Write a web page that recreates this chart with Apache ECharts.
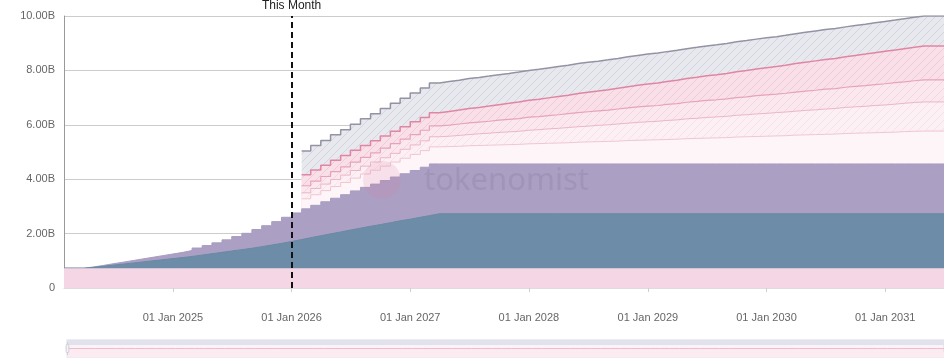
<!DOCTYPE html>
<html>
<head>
<meta charset="utf-8">
<script src="https://cdn.jsdelivr.net/npm/echarts@6/dist/echarts.min.js"></script>
<style>html,body{margin:0;padding:0;background:#fff;}#c{width:944px;height:364px;}</style>
</head>
<body>
<div id="c"></div>
<script>
// Monthly dates (x axis)
var months = [
 '2024-02-01','2024-03-01','2024-04-01','2024-05-01','2024-06-01','2024-07-01','2024-08-01','2024-09-01','2024-10-01','2024-11-01','2024-12-01',
 '2025-01-01','2025-02-01','2025-03-01','2025-04-01','2025-05-01','2025-06-01','2025-07-01','2025-08-01','2025-09-01','2025-10-01','2025-11-01','2025-12-01',
 '2026-01-01','2026-02-01','2026-03-01','2026-04-01','2026-05-01','2026-06-01','2026-07-01','2026-08-01','2026-09-01','2026-10-01','2026-11-01','2026-12-01',
 '2027-01-01','2027-02-01','2027-03-01','2027-04-01','2027-05-01','2027-06-01','2027-07-01','2027-08-01','2027-09-01','2027-10-01','2027-11-01','2027-12-01',
 '2028-01-01','2028-02-01','2028-03-01','2028-04-01','2028-05-01','2028-06-01','2028-07-01','2028-08-01','2028-09-01','2028-10-01','2028-11-01','2028-12-01',
 '2029-01-01','2029-02-01','2029-03-01','2029-04-01','2029-05-01','2029-06-01','2029-07-01','2029-08-01','2029-09-01','2029-10-01','2029-11-01','2029-12-01',
 '2030-01-01','2030-02-01','2030-03-01','2030-04-01','2030-05-01','2030-06-01','2030-07-01','2030-08-01','2030-09-01','2030-10-01','2030-11-01','2030-12-01',
 '2031-01-01','2031-02-01','2031-03-01','2031-04-01','2031-05-01','2031-06-01','2031-07-01'
];
var yTicks = [0, 2, 4, 6, 8, 10]; // billions
var thisMonth = '2026-01-01';

// Unlocked amounts per allocation, in billions (monthly)
var initialUnlock = [
 0.73,0.73,0.73,0.73,0.73,0.73,0.73,0.73,0.73,0.73,
 0.73,0.73,0.73,0.73,0.73,0.73,0.73,0.73,0.73,0.73,
 0.73,0.73,0.73,0.73,0.73,0.73,0.73,0.73,0.73,0.73,
 0.73,0.73,0.73,0.73,0.73,0.73,0.73,0.73,0.73,0.73,
 0.73,0.73,0.73,0.73,0.73,0.73,0.73,0.73,0.73,0.73,
 0.73,0.73,0.73,0.73,0.73,0.73,0.73,0.73,0.73,0.73,
 0.73,0.73,0.73,0.73,0.73,0.73,0.73,0.73,0.73,0.73,
 0.73,0.73,0.73,0.73,0.73,0.73,0.73,0.73,0.73,0.73,
 0.73,0.73,0.73,0.73,0.73,0.73,0.73,0.73,0.73,0.73
];
var blueAlloc = [
 0,0,0.03,0.07,0.11,0.15,0.19,0.23,0.27,0.31,
 0.35,0.39,0.43,0.48,0.53,0.58,0.63,0.68,0.73,0.79,
 0.85,0.91,0.98,1.05,1.12,1.19,1.26,1.33,1.40,1.47,
 1.54,1.60,1.67,1.74,1.80,1.87,1.93,2.00,2.00,2.00,
 2.00,2.00,2.00,2.00,2.00,2.00,2.00,2.00,2.00,2.00,
 2.00,2.00,2.00,2.00,2.00,2.00,2.00,2.00,2.00,2.00,
 2.00,2.00,2.00,2.00,2.00,2.00,2.00,2.00,2.00,2.00,
 2.00,2.00,2.00,2.00,2.00,2.00,2.00,2.00,2.00,2.00,
 2.00,2.00,2.00,2.00,2.00,2.00,2.00,2.00,2.00,2.00
];
var purpleAlloc = [
 0,0,0.01,0.03,0.05,0.07,0.09,0.11,0.13,0.15,
 0.17,0.19,0.22,0.26,0.30,0.35,0.41,0.48,0.55,0.63,
 0.71,0.80,0.89,0.98,1.06,1.12,1.18,1.24,1.30,1.37,
 1.43,1.49,1.55,1.61,1.67,1.72,1.78,1.83,1.83,1.83,
 1.83,1.83,1.83,1.83,1.83,1.83,1.83,1.83,1.83,1.83,
 1.83,1.83,1.83,1.83,1.83,1.83,1.83,1.83,1.83,1.83,
 1.83,1.83,1.83,1.83,1.83,1.83,1.83,1.83,1.83,1.83,
 1.83,1.83,1.83,1.83,1.83,1.83,1.83,1.83,1.83,1.83,
 1.83,1.83,1.83,1.83,1.83,1.83,1.83,1.83,1.83,1.83
];
var N = null;
var tbd1 = [
 N,N,N,N,N,N,N,N,N,N,
 N,N,N,N,N,N,N,N,N,N,
 N,N,N,N,0.37,0.39,0.41,0.43,0.45,0.47,
 0.49,0.51,0.53,0.55,0.57,0.59,0.61,0.63,0.64,0.65,
 0.67,0.68,0.69,0.70,0.71,0.72,0.74,0.75,0.76,0.77,
 0.78,0.80,0.81,0.82,0.83,0.84,0.86,0.87,0.88,0.89,
 0.90,0.91,0.93,0.94,0.95,0.96,0.97,0.99,1.00,1.01,
 1.02,1.03,1.04,1.06,1.07,1.08,1.09,1.10,1.12,1.13,
 1.14,1.15,1.16,1.17,1.19,1.20,1.21,1.21,1.21,1.21
];
var tbd2 = [
 N,N,N,N,N,N,N,N,N,N,
 N,N,N,N,N,N,N,N,N,N,
 N,N,N,N,0.22,0.23,0.24,0.26,0.27,0.28,
 0.29,0.30,0.31,0.32,0.33,0.35,0.36,0.37,0.38,0.40,
 0.41,0.43,0.44,0.46,0.47,0.48,0.50,0.51,0.53,0.54,
 0.56,0.57,0.58,0.60,0.61,0.63,0.64,0.66,0.67,0.68,
 0.70,0.71,0.73,0.74,0.76,0.77,0.78,0.80,0.81,0.83,
 0.84,0.86,0.87,0.88,0.90,0.91,0.93,0.94,0.96,0.97,
 0.98,1.00,1.01,1.03,1.04,1.06,1.07,1.07,1.07,1.07
];
var tbd3 = [
 N,N,N,N,N,N,N,N,N,N,
 N,N,N,N,N,N,N,N,N,N,
 N,N,N,N,0.26,0.27,0.28,0.29,0.30,0.31,
 0.32,0.34,0.35,0.36,0.37,0.38,0.39,0.40,0.41,0.42,
 0.43,0.43,0.44,0.45,0.46,0.47,0.48,0.48,0.49,0.50,
 0.51,0.52,0.53,0.53,0.54,0.55,0.56,0.57,0.58,0.58,
 0.59,0.60,0.61,0.62,0.63,0.63,0.64,0.65,0.66,0.67,
 0.68,0.68,0.69,0.70,0.71,0.72,0.73,0.73,0.74,0.75,
 0.76,0.77,0.78,0.79,0.79,0.80,0.81,0.81,0.81,0.81
];
var tbd4 = [
 N,N,N,N,N,N,N,N,N,N,
 N,N,N,N,N,N,N,N,N,N,
 N,N,N,N,0.40,0.41,0.41,0.42,0.42,0.43,
 0.44,0.44,0.45,0.45,0.46,0.47,0.47,0.48,0.50,0.51,
 0.53,0.54,0.56,0.57,0.59,0.61,0.62,0.64,0.65,0.67,
 0.68,0.70,0.72,0.73,0.75,0.76,0.78,0.79,0.81,0.83,
 0.84,0.86,0.87,0.89,0.90,0.92,0.94,0.95,0.97,0.98,
 1.00,1.01,1.03,1.05,1.06,1.08,1.09,1.11,1.12,1.14,
 1.16,1.17,1.19,1.20,1.22,1.23,1.25,1.25,1.25,1.25
];
var tbd5 = [
 N,N,N,N,N,N,N,N,N,N,
 N,N,N,N,N,N,N,N,N,N,
 N,N,N,N,0.88,0.90,0.91,0.93,0.95,0.96,
 0.98,1.00,1.01,1.03,1.05,1.06,1.08,1.10,1.10,1.10,
 1.10,1.10,1.10,1.10,1.10,1.10,1.10,1.10,1.10,1.10,
 1.10,1.10,1.10,1.10,1.10,1.10,1.10,1.10,1.10,1.10,
 1.10,1.10,1.10,1.10,1.10,1.10,1.10,1.10,1.10,1.10,
 1.10,1.10,1.10,1.10,1.10,1.10,1.10,1.10,1.10,1.10,
 1.10,1.10,1.10,1.10,1.10,1.10,1.10,1.10,1.10,1.10
];

// stacked totals (each layer drawn from 0 to its cumulative top; lower layers painted over upper ones)
var layers = [initialUnlock, blueAlloc, purpleAlloc, tbd1, tbd2, tbd3, tbd4, tbd5];
var cumulative = layers.map(function (arr, k) {
  return arr.map(function (v, i) {
    if (v == null) return null;
    var s = 0;
    for (var j = 0; j <= k; j++) s += (layers[j][i] || 0);
    return Math.round(s * 1000) / 1000;
  });
});

function pairs(arr) { return months.map(function (m, i) { return [m, arr[i]]; }); }
function hatch(bg, line) {
  var c = document.createElement('canvas'); c.width = 8; c.height = 8;
  var ctx = c.getContext('2d');
  ctx.fillStyle = bg; ctx.fillRect(0, 0, 8, 8);
  ctx.strokeStyle = line; ctx.lineWidth = 1;
  ctx.beginPath();
  ctx.moveTo(0, 8); ctx.lineTo(8, 0);
  ctx.moveTo(-1, 1); ctx.lineTo(1, -1);
  ctx.moveTo(7, 9); ctx.lineTo(9, 7);
  ctx.stroke();
  return { image: c, repeat: 'repeat' };
}
var MONTHS = ['Jan','Feb','Mar','Apr','May','Jun','Jul','Aug','Sep','Oct','Nov','Dec'];

var styles = [
  { name: 'Initial', fill: '#f5d6e4', line: '#f5d6e4', w: 0 },
  { name: 'Allocation A', fill: '#6c8ca8', line: '#6a89a5', w: 1 },
  { name: 'Allocation B', fill: '#aba0c3', line: '#a89cc0', w: 1 },
  { name: 'TBD 1', fill: '#fdf5f8', line: '#efc6d3', w: 1 },
  { name: 'TBD 2', fill: hatch('#fcf0f4', '#f7e2ea'), line: '#ebb6c7', w: 1 },
  { name: 'TBD 3', fill: hatch('#fbe7ee', '#f4d6e0'), line: '#e7a3b9', w: 1.2 },
  { name: 'TBD 4', fill: hatch('#f9dfe8', '#f0cad7'), line: '#df86a2', w: 1.5 },
  { name: 'TBD 5', fill: hatch('#e8e8ef', '#d4d4df'), line: '#9393a4', w: 1.5 }
];

var series = styles.map(function (s, k) {
  return {
    name: s.name, type: 'line', step: 'end', symbol: 'none',
    z: 20 - k,
    data: pairs(cumulative[k]),
    lineStyle: { color: s.line, width: s.w },
    areaStyle: { color: s.fill, opacity: 1 },
    emphasis: { disabled: true }
  };
});
series[0].markLine = {
  silent: true, symbol: 'none', z: 40,
  lineStyle: { type: [6, 4], color: '#111', width: 2 },
  label: { show: true, position: 'end', formatter: 'This Month', color: '#222', fontSize: 12, distance: 4 },
  data: [{ xAxis: thisMonth }]
};

var chart = echarts.init(document.getElementById('c'));
chart.setOption({
  animation: false,
  backgroundColor: '#fff',
  grid: { left: 64, right: 0, top: 16, bottom: 76 },
  xAxis: {
    type: 'time',
    min: months[0], max: months[months.length - 1],
    minInterval: 365 * 86400000, maxInterval: 366 * 86400000,
    axisLine: { show: true, lineStyle: { color: '#dcdcdc' } },
    axisTick: { show: true, length: 4, lineStyle: { color: '#cfcfcf' } },
    splitLine: { show: false },
    axisLabel: {
      margin: 24, color: '#666', fontSize: 11, fontFamily: 'Liberation Sans Narrow, sans-serif',
      formatter: function (v) { var d = new Date(v); return ('0' + d.getDate()).slice(-2) + ' ' + MONTHS[d.getMonth()] + ' ' + d.getFullYear(); }
    }
  },
  yAxis: {
    type: 'value', min: yTicks[0], max: yTicks[yTicks.length - 1], interval: 2,
    axisLine: { show: true, lineStyle: { color: '#999' } },
    axisTick: { show: false },
    splitLine: { show: true, lineStyle: { color: '#cccccc' } },
    axisLabel: { color: '#666', fontSize: 11, margin: 9,
      formatter: function (v) { return v === 0 ? '0' : v.toFixed(2) + 'B'; } }
  },
  dataZoom: [{
    type: 'slider', xAxisIndex: 0, filterMode: 'none',
    startValue: months[0], endValue: months[months.length - 1],
    left: 64, right: 0, bottom: 6, height: 19,
    showDetail: false, brushSelect: false,
    borderColor: '#ececf2', backgroundColor: 'rgba(0,0,0,0)',
    fillerColor: new echarts.graphic.LinearGradient(0, 0, 0, 1, [
      { offset: 0, color: 'rgba(250,228,236,0.45)' }, { offset: 0.69, color: 'rgba(250,228,236,0.45)' },
      { offset: 0.7, color: '#e1e2eb' }, { offset: 1, color: '#e1e2eb' }
    ]),
    dataBackground: { lineStyle: { color: '#e29db3', width: 1, opacity: 1 }, areaStyle: { color: '#fdf2f5', opacity: 1 } },
    selectedDataBackground: { lineStyle: { color: '#e29db3', width: 1, opacity: 1 }, areaStyle: { color: '#fdf2f5', opacity: 1 } },
    handleSize: '70%', handleStyle: { color: '#f4f4f8', borderColor: '#cfcfd8' }
  }],
  graphic: [
    { type: 'circle', shape: { cx: 382, cy: 180, r: 19 }, style: { fill: 'rgba(225,120,160,0.16)' }, z: 100, silent: true },
    { type: 'text', left: 424, top: 166, z: 100, silent: true,
      style: { text: 'tokenomist', fontSize: 31, fontFamily: 'Noto Sans, sans-serif', fill: 'rgba(95,75,115,0.13)' } }
  ],
  series: series
});
</script>
</body>
</html>
